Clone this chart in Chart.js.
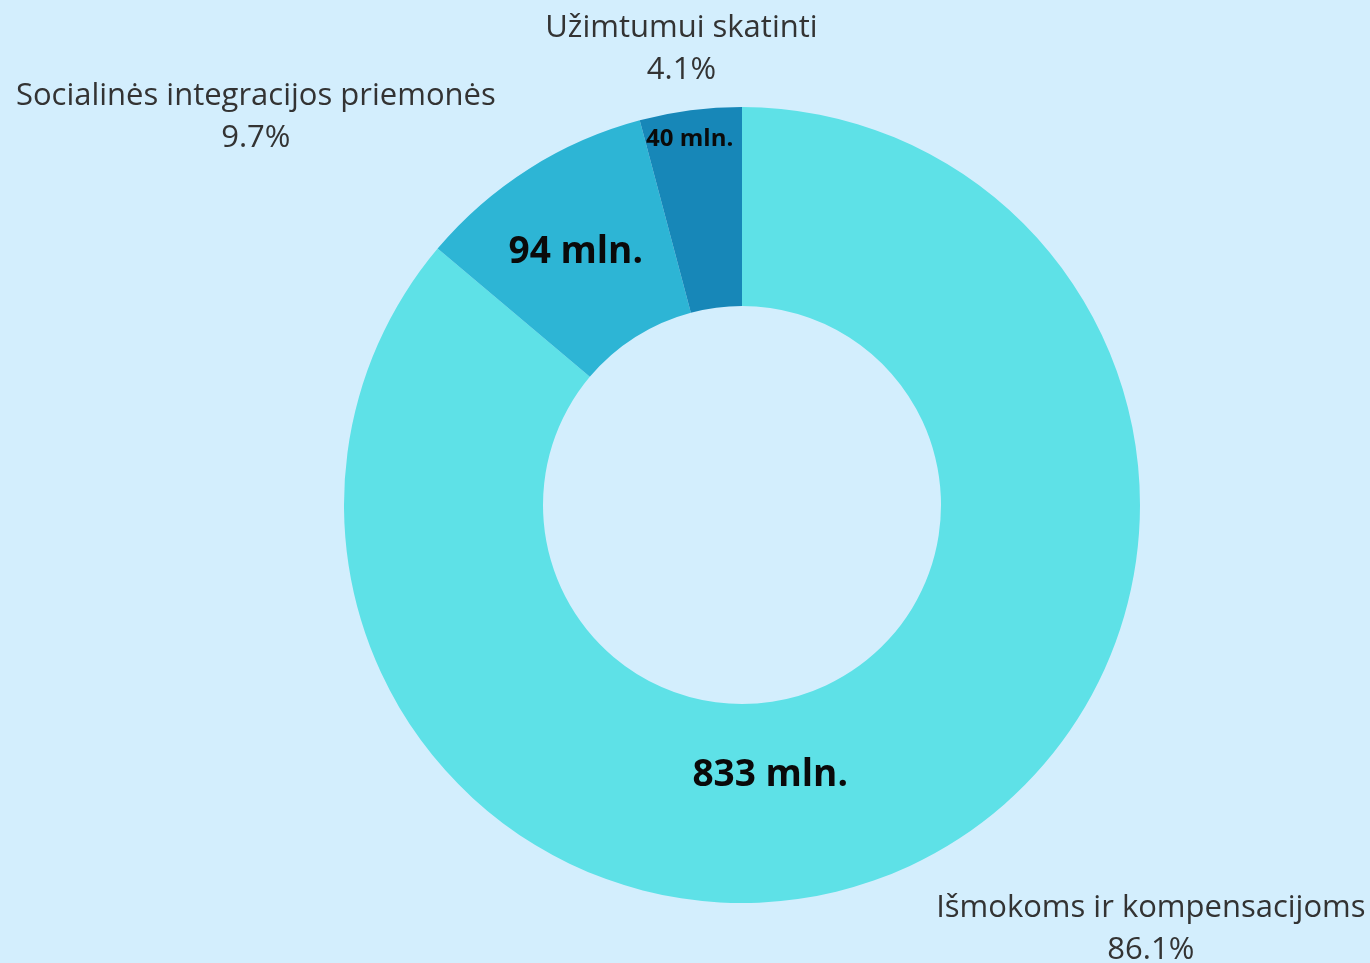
<!DOCTYPE html>
<html>
<head>
<meta charset="utf-8">
<title>Biudžetas</title>
<script src="https://cdn.jsdelivr.net/npm/chart.js@4/dist/chart.umd.min.js"></script>
<style>
  html, body { margin: 0; padding: 0; background: #D3EEFD; }
  #wrap { width: 1370px; height: 963px; position: relative; }
</style>
</head>
<body>
<div id="wrap"><canvas id="budget-chart"></canvas></div>
<script>
// data
var categories = ['Išmokoms ir kompensacijoms', 'Socialinės integracijos priemonės', 'Užimtumui skatinti'];
var amounts = [833, 94, 40];           // mln.
var sliceColors = ['#5EE1E7', '#2DB5D5', '#1787B8'];

var total = amounts.reduce(function(a, b){ return a + b; }, 0);

// where the texts sit, relative to each slice
var insideText = [
  { t: 0.561, f: 0.35, size: 37 },
  { t: 0.48,  f: 0.53, size: 37 },
  { t: 0.457, f: 0.87, size: 24 }
];
var outsideShift = [
  { dx: 241, dy: 63 },
  { dx: -273, dy: -52 },
  { dx: -9, dy: -61 }
];

var sliceLabels = {
  id: 'sliceLabels',
  afterDatasetsDraw: function(chart){
    var ctx = chart.ctx;
    var arcs = chart.getDatasetMeta(0).data;
    ctx.save();
    ctx.textAlign = 'center';
    ctx.textBaseline = 'middle';
    arcs.forEach(function(arc, i){
      var p = arc.getProps(['x', 'y', 'startAngle', 'endAngle', 'innerRadius', 'outerRadius'], true);
      // value inside the slice
      var it = insideText[i];
      var a = p.startAngle + it.t * (p.endAngle - p.startAngle);
      var r = p.innerRadius + it.f * (p.outerRadius - p.innerRadius);
      ctx.fillStyle = '#0a0a0a';
      ctx.font = 'bold ' + it.size + 'px "Open Sans", "Noto Sans", sans-serif';
      ctx.fillText(amounts[i] + ' mln.', p.x + r * Math.cos(a), p.y + r * Math.sin(a) + 3);

      // name and share outside
      var mid = (p.startAngle + p.endAngle) / 2;
      var mx = p.x + p.outerRadius * Math.cos(mid);
      var my = p.y + p.outerRadius * Math.sin(mid);
      var cx = mx + outsideShift[i].dx;
      var cy = my + outsideShift[i].dy;
      ctx.fillStyle = '#333333';
      ctx.font = '31px "Open Sans", "Noto Sans", sans-serif';
      ctx.fillText(categories[i], cx, cy - 21);
      ctx.fillText((amounts[i] / total * 100).toFixed(1) + '%', cx, cy + 21);
    });
    ctx.restore();
  }
};

var ctx = document.getElementById('budget-chart');
var budgetChart = new Chart(ctx, {
  type: 'doughnut',
  data: {
    labels: categories,
    datasets: [{
      data: amounts,
      backgroundColor: sliceColors,
      borderWidth: 0
    }]
  },
  options: {
    responsive: true,
    maintainAspectRatio: false,
    animation: false,
    cutout: '50%',
    layout: { padding: { top: 107, bottom: 60, left: 344, right: 230 } },
    plugins: {
      legend: { display: false },
      tooltip: { enabled: false }
    }
  },
  plugins: [sliceLabels]
});
</script>
</body>
</html>
